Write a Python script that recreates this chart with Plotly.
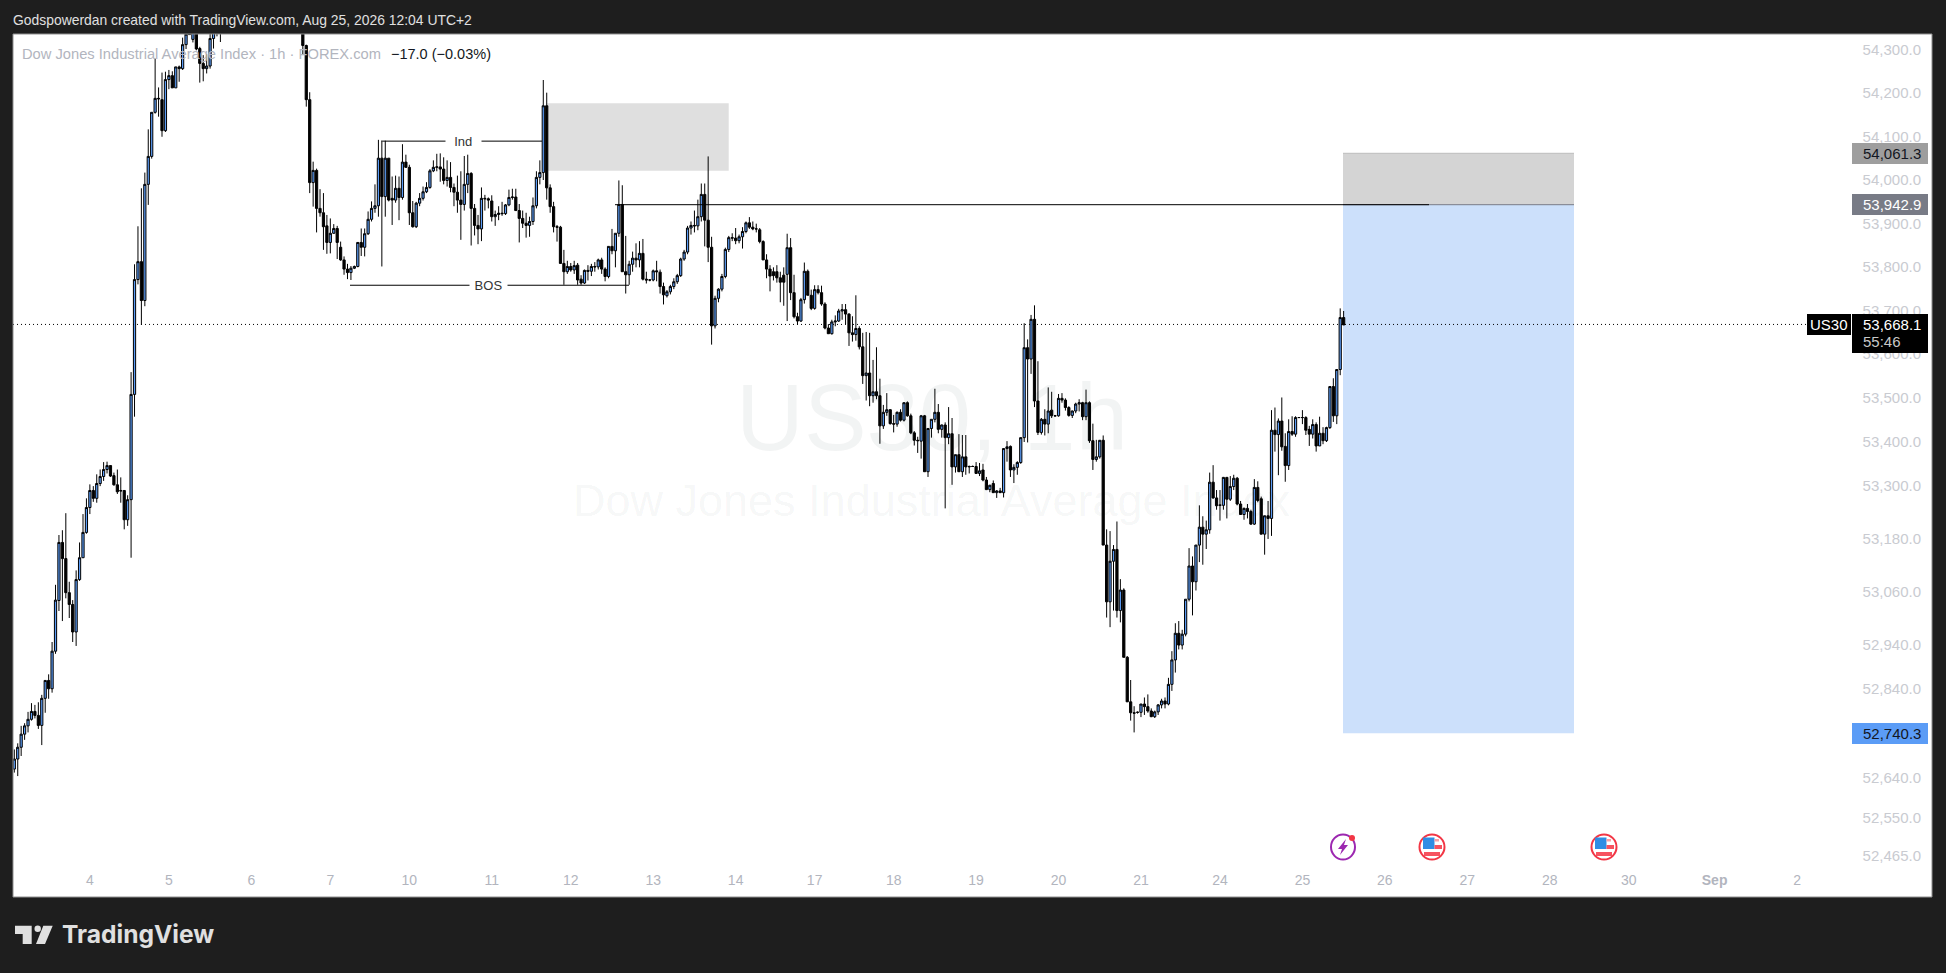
import math
import plotly.graph_objects as go

# Estimated hourly candles (the stretch that runs above the top edge is a guess)
opens = [
52651,52674,52701,52731,52750,52765,52783,52774,52751,52813,
52854,52835,52921,53037,53170,53133,53055,53028,52965,53085,
53135,53193,53250,53289,53271,53305,53321,53337,53346,53323,
53302,53289,53289,53222,53268,53509,53772,53813,53724,53990,
54054,54155,54187,54184,54113,54230,54239,54211,54259,54255,
54310,54345,54322,54345,54301,54267,54255,54261,54324,54345,
54355,54365,54380,54400,54415,54405,54390,54410,54440,54455,
54445,54430,54420,54430,54450,54440,54420,54405,54415,54425,
54410,54390,54380,54365,54350,54308,54184,53994,54022,53935,
53925,53895,53857,53878,53889,53846,53817,53796,53788,53798,
53802,53857,53846,53877,53910,53935,53941,54050,53962,54050,
53958,53954,53981,53960,54041,54029,53925,53893,53947,53958,
53973,53983,54021,54029,54030,54025,53999,54006,53983,53972,
53954,53944,53990,54015,53935,53896,53888,53958,53957,53952,
53916,53921,53924,53923,53943,53960,53961,53930,53912,53901,
53896,53905,53941,54006,54017,54170,53982,53939,53893,53892,
53809,53790,53802,53794,53805,53773,53764,53793,53791,53802,
53801,53817,53796,53779,53848,53838,53878,53944,53790,53783,
53807,53821,53817,53832,53773,53771,53771,53792,53789,53756,
53735,53744,53756,53767,53781,53819,53835,53890,53896,53895,
53916,53967,53908,53846,53666,53729,53750,53779,53841,53868,
53867,53861,53870,53882,53902,53892,53888,53886,53859,53817,
53796,53790,53790,53776,53782,53784,53845,53742,53687,53677,
53726,53791,53736,53706,53749,53742,53716,53661,53648,53675,
53677,53700,53703,53693,53650,53646,53660,53618,53552,53558,
53506,53515,53506,53437,53468,53474,53442,53441,53468,53450,
53490,53460,53421,53404,53402,53460,53332,53431,53452,53468,
53429,53439,53410,53419,53343,53371,53332,53366,53343,53344,
53344,53328,53336,53313,53291,53305,53284,53288,53284,53385,
53390,53336,53342,53353,53410,53616,53590,53681,53494,53422,
53452,53441,53473,53460,53460,53500,53496,53479,53461,53471,
53487,53490,53458,53490,53403,53360,53366,53404,53164,53034,
53127,53154,53014,53061,52907,52805,52780,52781,52781,52800,
52794,52784,52771,52782,52798,52807,52800,52845,52901,52962,
52935,52960,53040,53116,53080,53164,53205,53189,53199,53308,
53272,53256,53255,53319,53269,53298,53317,53258,53234,53248,
53241,53212,53296,53270,53189,53231,53225,53427,53417,53448,
53390,53346,53424,53418,53456,53456,53456,53429,53418,53440,
53391,53420,53403,53433,53527,53460,53566,53685]
highs = [
52696,52710,52750,52756,52782,52802,52798,52804,52821,52854,
52868,52942,53073,53187,53198,53237,53080,53038,53106,53170,
53235,53271,53303,53299,53326,53337,53354,53355,53346,53330,
53337,53319,53289,53278,53560,53807,53894,53981,54017,54116,
54155,54278,54212,54246,54248,54252,54249,54259,54262,54326,
54350,54360,54355,54355,54305,54286,54288,54335,54345,54365,
54375,54390,54410,54430,54440,54425,54420,54450,54470,54480,
54465,54450,54440,54460,54475,54455,54435,54425,54440,54445,
54425,54410,54395,54385,54370,54310,54201,54042,54026,53979,
53970,53920,53912,53899,53895,53859,53825,53808,53803,53804,
53858,53889,53889,53928,53951,53990,54092,54088,54090,54050,
54008,54010,54008,54082,54058,54035,53952,53950,53970,53985,
53995,54025,54045,54060,54061,54052,54045,54041,53992,54010,
54020,54055,54058,54018,53945,53920,53983,53966,53960,53965,
53930,53940,53950,53945,53978,53980,53980,53945,53930,53925,
53916,53960,54020,54045,54229,54200,53990,53950,53897,53895,
53840,53815,53810,53815,53810,53782,53795,53805,53808,53812,
53820,53822,53800,53848,53888,53878,53999,53988,53872,53815,
53836,53855,53860,53865,53790,53773,53795,53815,53795,53765,
53748,53760,53775,53785,53822,53840,53895,53905,53930,53955,
53992,53992,54054,53870,53735,53752,53785,53845,53872,53878,
53890,53875,53892,53905,53915,53905,53900,53890,53862,53830,
53805,53800,53805,53790,53800,53877,53867,53783,53696,53730,
53811,53795,53749,53759,53759,53758,53720,53670,53680,53690,
53705,53716,53716,53695,53688,53736,53665,53650,53652,53650,
53588,53617,53545,53485,53512,53475,53462,53470,53475,53491,
53493,53465,53425,53412,53462,53462,53431,53452,53522,53487,
53440,53445,53480,53455,53371,53418,53416,53416,53346,53346,
53354,53352,53350,53320,53302,53312,53290,53295,53385,53402,
53392,53349,53356,53410,53672,53635,53691,53713,53585,53455,
53475,53525,53515,53462,53510,53512,53500,53482,53472,53490,
53498,53492,53520,53493,53442,53405,53404,53415,53200,53196,
53164,53218,53086,53065,52910,52855,52795,52783,52800,52815,
52822,52790,52785,52800,52812,52815,52860,52921,52985,52990,
52970,53040,53157,53138,53164,53255,53230,53220,53330,53347,
53290,53290,53320,53320,53322,53325,53320,53265,53250,53258,
53245,53315,53310,53275,53230,53265,53473,53479,53454,53502,
53420,53452,53459,53459,53457,53473,53459,53437,53452,53445,
53458,53434,53435,53527,53546,53566,53706,53700]
lows = [
52643,52635,52681,52718,52735,52762,52767,52743,52706,52780,
52812,52826,52915,53013,52990,53042,52997,52942,52933,53082,
53135,53190,53235,53263,53261,53299,53311,53328,53320,53300,
53281,53261,53200,53208,53135,53458,53761,53668,53711,53943,
54049,54152,54145,54099,54110,54208,54211,54211,54225,54252,
54300,54333,54315,54297,54223,54226,54244,54255,54301,54329,
54316,54345,54370,54385,54395,54380,54375,54400,54425,54430,
54420,54405,54400,54415,54435,54410,54395,54385,54400,54400,
54380,54365,54350,54340,54287,54168,53970,53939,53880,53916,
53840,53831,53832,53877,53819,53815,53783,53773,53771,53796,
53800,53826,53825,53874,53905,53925,53916,53802,53916,53951,
53897,53948,53908,53955,54028,53897,53891,53890,53940,53953,
53970,53980,54018,54020,53996,53990,53985,53972,53940,53925,
53863,53930,53970,53850,53873,53853,53860,53930,53935,53905,
53895,53908,53918,53920,53940,53955,53930,53857,53890,53868,
53870,53897,53935,53990,54000,53955,53925,53880,53859,53809,
53760,53785,53790,53785,53760,53760,53762,53770,53780,53790,
53795,53785,53768,53775,53830,53800,53870,53790,53740,53760,
53790,53800,53800,53770,53763,53768,53768,53768,53740,53715,
53731,53738,53750,53762,53778,53815,53830,53875,53880,53885,
53905,53848,53812,53623,53660,53720,53745,53775,53835,53860,
53853,53855,53843,53878,53888,53885,53880,53855,53817,53775,
53745,53770,53765,53720,53712,53677,53725,53683,53668,53675,
53717,53736,53702,53703,53738,53712,53658,53648,53646,53665,
53675,53680,53670,53620,53630,53632,53612,53533,53495,53482,
53490,53498,53396,53430,53460,53440,53422,53435,53447,53447,
53458,53418,53392,53375,53362,53332,53320,53410,53445,53420,
53410,53248,53395,53302,53330,53332,53320,53325,53328,53343,
53328,53322,53310,53290,53285,53284,53272,53284,53273,53355,
53320,53306,53325,53350,53400,53399,53556,53480,53416,53417,
53415,53420,53455,53458,53458,53490,53472,53458,53455,53466,
53470,53450,53450,53398,53336,53355,53362,53164,52998,52976,
53014,52998,52987,52907,52805,52762,52735,52778,52770,52775,
52780,52770,52768,52775,52790,52790,52797,52830,52872,52925,
52925,52955,53035,53003,53060,53125,53119,53155,53190,53270,
53245,53220,53245,53225,53265,53290,53255,53235,53222,53225,
53210,53210,53262,53190,53142,53178,53185,53378,53324,53380,
53309,53336,53414,53412,53455,53441,53416,53391,53408,53378,
53391,53395,53400,53430,53446,53441,53553,53668]
closes = [
52674,52701,52731,52750,52765,52783,52774,52751,52813,52854,
52835,52921,53038,53170,53133,53055,53028,52965,53085,53135,
53193,53250,53289,53271,53305,53321,53337,53346,53322,53302,
53286,53288,53222,53268,53509,53772,53813,53724,53990,54054,
54155,54187,54186,54113,54230,54239,54211,54259,54255,54310,
54334,54333,54345,54300,54267,54255,54261,54324,54340,54355,
54365,54380,54400,54415,54405,54390,54410,54440,54455,54445,
54430,54420,54430,54450,54440,54420,54405,54415,54425,54410,
54390,54380,54365,54350,54308,54184,53994,54022,53935,53925,
53893,53857,53878,53889,53857,53817,53796,53788,53798,53802,
53857,53846,53877,53910,53935,53941,54050,53962,54050,53954,
53954,53981,53960,54041,54029,53925,53893,53947,53958,53973,
53983,54021,54029,54030,54025,53999,54006,53983,53972,53954,
53944,53990,54015,53935,53896,53888,53958,53957,53954,53916,
53921,53924,53923,53943,53960,53961,53930,53912,53901,53896,
53905,53941,54006,54017,54170,53982,53939,53893,53892,53809,
53790,53802,53794,53804,53771,53764,53793,53791,53802,53801,
53817,53796,53779,53848,53838,53878,53944,53790,53783,53807,
53821,53817,53832,53773,53771,53771,53792,53790,53756,53737,
53744,53756,53767,53781,53819,53835,53890,53896,53895,53916,
53967,53908,53846,53666,53729,53750,53779,53841,53868,53867,
53861,53870,53882,53902,53892,53888,53888,53859,53817,53796,
53780,53781,53776,53766,53766,53845,53742,53687,53677,53726,
53791,53736,53706,53749,53742,53716,53661,53648,53675,53677,
53700,53703,53693,53650,53646,53660,53618,53552,53558,53506,
53515,53506,53437,53468,53474,53442,53441,53468,53450,53490,
53460,53421,53404,53403,53460,53332,53431,53452,53468,53429,
53439,53410,53419,53343,53371,53332,53366,53343,53344,53344,
53328,53334,53313,53291,53301,53284,53288,53284,53385,53389,
53336,53342,53353,53410,53616,53590,53681,53494,53422,53452,
53441,53471,53460,53460,53500,53496,53479,53461,53471,53487,
53490,53458,53490,53403,53360,53366,53404,53164,53034,53127,
53154,53014,53061,52907,52805,52780,52779,52781,52800,52794,
52784,52771,52782,52798,52807,52800,52845,52901,52962,52935,
52960,53040,53116,53080,53164,53205,53189,53199,53308,53272,
53254,53255,53319,53269,53298,53317,53258,53234,53248,53241,
53212,53296,53266,53189,53231,53225,53427,53417,53448,53389,
53346,53424,53418,53456,53456,53456,53427,53418,53440,53391,
53420,53403,53433,53527,53460,53566,53685,53668]

day_labels = ["4","5","6","7","10","11","12","13","14","17","18","19","20","21","24","25","26","27","28","30","<b>Sep</b>","2"]
day_bars = [22,45,69,92,115,139,162,186,210,233,256,280,304,328,351,375,399,423,447,470,495,519]
price_ticks = [54300,54200,54100,54000,53900,53800,53700,53600,53500,53400,53300,53180,53060,52940,52840,52640,52550,52465]
price_tick_text = [f"{v:,.1f}" for v in price_ticks]

last_price = 53668.1
target_price = 54061.3
entry_price = 53942.9
stop_price = 52740.3
n = min(len(opens), len(highs), len(lows), len(closes))
bars = list(range(n))

W, H = 1946, 973
L, R, T, B = 13, 1932, 34, 897
def px(x): return (x - L) / (R - L)
def py(y): return 1 - (y - T) / (B - T)

BAR_PX = 3.435
FIRST_BAR_PX = 14.3
x_range = [(L - FIRST_BAR_PX) / BAR_PX, (R - FIRST_BAR_PX) / BAR_PX]

# Price scale, calibrated on the three labelled price levels
PX_PER_LOG = 53983
TOP_TICK_PX = 50
ref = math.log10(54300)
y_range = [ref - (B - TOP_TICK_PX) / PX_PER_LOG, ref + (TOP_TICK_PX - T) / PX_PER_LOG]

def calibrated(v):
    # the readings above used a straight 2.29 points per pixel; put them on the log scale
    row = 49 + (54300 - v) / 2.29
    return 54300 / 10 ** ((row - TOP_TICK_PX) / PX_PER_LOG)

fig = go.Figure(go.Candlestick(
    x=bars,
    open=[calibrated(v) for v in opens[:n]], high=[calibrated(v) for v in highs[:n]],
    low=[calibrated(v) for v in lows[:n]], close=[calibrated(v) for v in closes[:n]],
    increasing=dict(line=dict(color="#000000", width=1), fillcolor="#5b9cf6"),
    decreasing=dict(line=dict(color="#000000", width=1), fillcolor="#000000"),
    whiskerwidth=0, hoverinfo="skip", showlegend=False))

shapes = []
def rect_data(x0, x1, y0, y1, fill, layer="below"):
    shapes.append(dict(type="rect", xref="x", yref="y", x0=x0, x1=x1, y0=y0, y1=y1,
                       fillcolor=fill, line=dict(width=0), layer=layer))
def line_data(x0, x1, y, color="#000000", dash="solid"):
    shapes.append(dict(type="line", xref="x", yref="y", x0=x0, x1=x1, y0=y, y1=y,
                       line=dict(color=color, width=1, dash=dash)))
def rect_px(x0, y0, x1, y1, fill, line=None):
    shapes.append(dict(type="rect", xref="paper", yref="paper", x0=px(x0), x1=px(x1), y0=py(y0), y1=py(y1),
                       fillcolor=fill, line=dict(width=0) if line is None else line))
def circle_px(cx, cy, rx, ry, fill, line=None):
    shapes.append(dict(type="circle", xref="paper", yref="paper", x0=px(cx-rx), x1=px(cx+rx), y0=py(cy-ry), y1=py(cy+ry),
                       fillcolor=fill, line=dict(width=0) if line is None else line))
def poly_px(points, fill):
    d = "M " + " L ".join(f"{px(a):.5f},{py(b):.5f}" for a, b in points) + " Z"
    shapes.append(dict(type="path", xref="paper", yref="paper", path=d, fillcolor=fill, line=dict(width=0)))
def b(xp): return (xp - FIRST_BAR_PX) / BAR_PX

ind_level = calibrated(54089)
bos_level = calibrated(53759)

# zones
rect_data(b(546.7), b(728.7), calibrated(54021), calibrated(54176), "#dfdfdf")
rect_data(b(1343), b(1574), entry_price, target_price, "#d4d4d4")
rect_data(b(1343), b(1574), stop_price, entry_price, "#cce0fb")
line_data(b(1343), b(1574), target_price, "#bdbdbd")

# drawings
line_data(b(381), b(542), ind_level)
line_data(b(350), b(629), bos_level)
line_data(b(1343), b(1574), entry_price, "#787b86")
line_data(b(615), b(1429), entry_price)
shapes.append(dict(type="line", xref="paper", yref="y", x0=0, x1=px(1807), y0=last_price, y1=last_price,
                   line=dict(color="#000000", width=1, dash="1px,3px")))

# price boxes
rect_px(1852, 143, 1928, 164, "#9e9e9e")
rect_px(1852, 194, 1928, 215, "#787b86")
rect_px(1852, 723, 1928, 744, "#5b9cf6")
rect_px(1807, 314, 1851, 335, "#000000")
rect_px(1852, 314, 1928, 353, "#000000")

# events
def flag(cx, cy=847):
    circle_px(cx, cy, 12.5, 12.5, "#ffffff", dict(color="#f23645", width=2))
    rect_px(cx-9, cy-9.5, cx+2.5, cy+2, "#2f8de4")
    rect_px(cx+2.5, cy-2, cx+10, cy+2, "#f7525f")
    rect_px(cx-8, cy+5, cx+8, cy+9, "#f7525f")
    rect_px(cx+2.5, cy-8, cx+7, cy-5.5, "#f7a0a6")
circle_px(1343, 847, 12, 12.5, "#ffffff", dict(color="#9c27b0", width=2))
poly_px([(1346,839),(1338,849),(1342,849),(1340,855),(1348,845),(1344,845)], "#9c27b0")
circle_px(1352, 838, 3, 3, "#f23645")
flag(1432)
flag(1604)

# frame and logo
rect_px(L, T, R, B, "rgba(0,0,0,0)", dict(color="#8f8f8f", width=1))
poly_px([(15,925.7),(31.7,925.7),(31.7,944),(22.7,944),(22.7,934),(15,934)], "#e0e0e0")
circle_px(37.7, 928.7, 3.2, 3.2, "#e0e0e0")
poly_px([(43.3,925.7),(52.7,925.7),(45,944),(36,944)], "#e0e0e0")

ann = []
FONT = "Liberation Sans"
def text_px(x, y, s, size, color, anchor="left", bg=None, family=FONT):
    a = dict(xref="paper", yref="paper", x=px(x), y=py(y), text=s, showarrow=False, xanchor=anchor, yanchor="middle",
             font=dict(family=family, size=size, color=color), borderpad=0, borderwidth=0)
    if bg: a["bgcolor"] = bg
    ann.append(a)

# watermark, translucent so the candles stay black through it
text_px(932, 418, "US30, 1h", 94, "rgba(0,40,40,0.05)", "center")
text_px(932, 500, "Dow Jones Industrial Average Index", 45, "rgba(0,40,40,0.05)", "center")

# header
text_px(13, 20, "Godspowerdan created with TradingView.com, Aug 25, 2026 12:04 UTC+2", 13.9, "#e0e0e0")
text_px(22, 54, "Dow Jones Industrial Average Index · 1h · FOREX.com", 14.7, "#b2b5be")
text_px(391, 54, "−17.0 (−0.03%)", 14.5, "#131722")

# drawing labels
ann.append(dict(xref="x", yref="y", x=b(463), y=math.log10(ind_level), text="&nbsp;&nbsp;Ind&nbsp;&nbsp;", showarrow=False, bgcolor="#ffffff",
                font=dict(family=FONT, size=13, color="#333333")))
ann.append(dict(xref="x", yref="y", x=b(488), y=math.log10(bos_level), text="&nbsp;BOS&nbsp;", showarrow=False, bgcolor="#ffffff",
                font=dict(family=FONT, size=13, color="#333333")))

# price boxes text
text_px(1921, 153.5, f"{target_price:,.1f}", 15, "#131722", "right")
text_px(1921, 204.5, f"{entry_price:,.1f}", 15, "#ffffff", "right")
text_px(1921, 733.5, f"{stop_price:,.1f}", 15, "#131722", "right")
text_px(1829, 324.5, "US30", 15, "#ffffff", "center")
text_px(1921, 324, f"{last_price:,.1f}", 15, "#ffffff", "right")
text_px(1863, 342, "55:46", 15, "#c8c8c8")

# logo word
text_px(62, 934, "<b>TradingView</b>", 24.6, "#e0e0e0", family="Inter")

fig.update_layout(
    width=W, height=H, autosize=False,
    margin=dict(l=L, r=W-R, t=T, b=H-B, pad=0),
    paper_bgcolor="#1e1e1e", plot_bgcolor="#ffffff",
    showlegend=False, boxgap=0.08, hovermode=False,
    shapes=shapes, annotations=ann,
    xaxis=dict(type="linear", range=x_range, rangeslider=dict(visible=False), showgrid=False, zeroline=False, showline=False,
               tickmode="array", tickvals=day_bars, ticktext=day_labels, ticks="",
               ticklabelposition="inside", ticklabelstandoff=6,
               tickfont=dict(family=FONT, size=14, color="#b2b5be")),
    yaxis=dict(type="log", side="right", range=y_range, showgrid=False, zeroline=False, showline=False,
               tickmode="array", tickvals=price_ticks, ticktext=price_tick_text, ticks="",
               ticklabelposition="inside", ticklabelstandoff=8,
               tickfont=dict(family=FONT, size=15, color="#c9cbd1")),
)
fig.write_html("out.html", config=dict(displayModeBar=False, staticPlot=True),
               post_script="document.body.style.margin='0';document.body.style.background='#1e1e1e';")
